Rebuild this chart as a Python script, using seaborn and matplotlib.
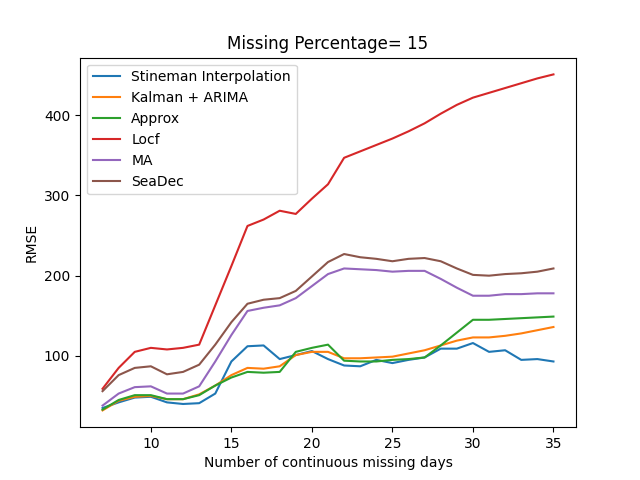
import pandas as pd
import seaborn as sns
import matplotlib
matplotlib.use("Agg")
import matplotlib.pyplot as plt

days = list(range(7, 36))

stineman = [35, 42, 48, 49, 42, 40, 41, 53, 93, 112, 113, 96, 101, 106, 96, 88, 87, 95, 91, 95,
            98, 109, 109, 116, 105, 107, 95, 96, 93]
kalman = [32, 44, 49, 50, 46, 46, 52, 63, 76, 85, 84, 87, 101, 105, 105, 97, 97, 98, 99, 103,
          107, 113, 119, 123, 123, 125, 128, 132, 136]
approx = [33, 45, 51, 51, 46, 46, 51, 63, 73, 80, 79, 80, 105, 110, 114, 94, 93, 93, 95, 96,
          98, 113, 129, 145, 145, 146, 147, 148, 149]
locf = [59, 85, 105, 110, 108, 110, 114, 163, 212, 262, 270, 281, 277, 296, 314, 347, 355, 363,
        371, 380, 390, 402, 413, 422, 428, 434, 440, 446, 451]
ma = [38, 53, 61, 62, 53, 53, 62, 93, 126, 156, 160, 163, 172, 187, 202, 209, 208, 207, 205, 206,
      206, 196, 185, 175, 175, 177, 177, 178, 178]
seadec = [56, 76, 85, 87, 77, 80, 89, 114, 142, 165, 170, 172, 181, 199, 217, 227, 223, 221, 218,
          221, 222, 218, 209, 201, 200, 202, 203, 205, 209]

series = {
    "Stineman Interpolation": stineman,
    "Kalman + ARIMA": kalman,
    "Approx": approx,
    "Locf": locf,
    "MA": ma,
    "SeaDec": seadec,
}

df = pd.concat([pd.DataFrame({"days": days, "rmse": v, "method": k}) for k, v in series.items()])

fig, ax = plt.subplots(figsize=(6.4, 4.8), dpi=100)
sns.lineplot(data=df, x="days", y="rmse", hue="method", palette="tab10", ax=ax)
ax.legend(loc="upper left")
ax.set_title("Missing Percentage= 15")
ax.set_xlabel("Number of continuous missing days")
ax.set_ylabel("RMSE")
fig.savefig("out.png")
